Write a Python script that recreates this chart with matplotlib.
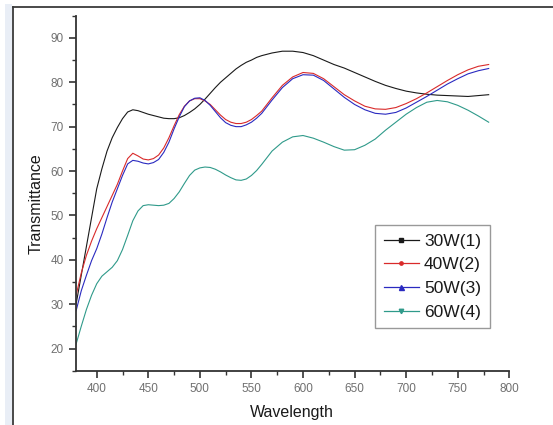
import matplotlib
matplotlib.use("Agg")
import matplotlib.pyplot as plt
from matplotlib.lines import Line2D
from matplotlib.patches import Rectangle
from matplotlib.ticker import MultipleLocator

plt.rcParams['font.family'] = ['Liberation Sans', 'DejaVu Sans']

wavelength = [380, 385, 390, 395, 400, 405, 410, 415, 420, 425, 430, 435, 440,
              445, 450, 455, 460, 465, 470, 475, 480, 485, 490, 495, 500, 505,
              510, 515, 520, 525, 530, 535, 540, 545, 550, 555, 560,
              570, 580, 590, 600, 610, 620, 630, 640, 650, 660, 670, 680, 690,
              700, 710, 720, 730, 740, 750, 760, 770, 780]

t_30w = [30, 36.5, 43, 49.5, 56, 60.5, 64.5, 67.5, 69.8, 71.8, 73.3, 73.8, 73.6,
         73.2, 72.8, 72.5, 72.2, 71.9, 71.8, 71.8, 72.0, 72.5, 73.2, 74.0, 75.0, 76.2,
         77.5, 78.8, 80.0, 81.0, 82.0, 83.0, 83.8, 84.5, 85.0, 85.6, 86.0,
         86.6, 87.0, 87.0, 86.7, 86.0, 85.0, 84.0, 83.2, 82.2, 81.2, 80.2, 79.3, 78.6,
         78.0, 77.6, 77.3, 77.1, 77.0, 76.9, 76.8, 77.0, 77.2]

t_40w = [32, 37, 41, 44.2, 47, 49.5, 52, 54.5, 57, 60, 62.8, 64, 63.4,
         62.7, 62.5, 62.8, 63.6, 65.2, 67.5, 70.2, 72.7, 74.6, 75.8, 76.3, 76.3, 75.8,
         75.0, 73.8, 72.6, 71.6, 71.0, 70.7, 70.7, 71.0, 71.6, 72.5, 73.5,
         76.5, 79.3, 81.2, 82.2, 82.0, 80.8, 79.0, 77.2, 75.8, 74.6, 74.0, 73.9, 74.3,
         75.2, 76.3, 77.6, 79.0, 80.4, 81.7, 82.8, 83.6, 84.0]

t_50w = [28.5, 33, 36.5, 39.8, 42.5, 45.8, 49.5, 53, 56, 59, 61.6, 62.4, 62.2,
         61.8, 61.6, 61.9, 62.6, 64.2, 66.5, 69.5, 72.2, 74.5, 75.8, 76.4, 76.5, 75.9,
         74.8, 73.4, 72.0, 70.9, 70.3, 70.0, 70.0, 70.4, 71.0, 71.9, 73.0,
         76.0, 78.8, 80.8, 81.7, 81.6, 80.4, 78.5, 76.6, 75.0, 73.8, 73.0, 72.8, 73.2,
         74.2, 75.5, 76.8, 78.2, 79.6, 80.8, 81.9, 82.6, 83.1]

t_60w = [21, 25, 28.8, 32, 34.6, 36.3, 37.3, 38.3, 39.8, 42.3, 45.5, 48.8, 51,
         52.2, 52.4, 52.3, 52.2, 52.3, 52.7, 53.8, 55.3, 57.2, 59.0, 60.2, 60.7, 60.9,
         60.8, 60.4, 59.8, 59.1, 58.5, 58.0, 57.9, 58.2, 59.0, 60.1, 61.5,
         64.5, 66.5, 67.7, 68.0, 67.4, 66.5, 65.5, 64.7, 64.8, 65.8, 67.2, 69.2, 71.0,
         72.8, 74.3, 75.5, 75.9, 75.6, 74.8, 73.7, 72.4, 71.0]

labels = ['30W(1)', '40W(2)', '50W(3)', '60W(4)']
x_ticks = [400, 450, 500, 550, 600, 650, 700, 750, 800]
y_ticks = [20, 30, 40, 50, 60, 70, 80, 90]

colors = ['#1a1a1a', '#d92a2a', '#2a2ac0', '#2f9a8a']
markers = ['s', 'o', '^', 'v']
msizes = [2.2, 2.4, 3.6, 3.2]

W, H = 553, 425
fig = plt.figure(figsize=(W / 100, H / 100), dpi=100)
fig.patch.set_facecolor('white')

# outer frame decoration
fig.add_artist(Rectangle((5 / W, 0), 7 / W, 1 - 4 / H, transform=fig.transFigure,
                         facecolor='#e9eef6', edgecolor='none', zorder=0))
fig.add_artist(Line2D([13 / W, 13 / W], [0, 1 - 7 / H], transform=fig.transFigure,
                      color='#3a3a3a', lw=1.3))
fig.add_artist(Line2D([13 / W, 1], [1 - 7 / H, 1 - 7 / H], transform=fig.transFigure,
                      color='#3a3a3a', lw=1.3))

ax_l, ax_r = 76.1, 509.3
ax_t, ax_b = 15.7, 370.7
ax = fig.add_axes([ax_l / W, 1 - ax_b / H, (ax_r - ax_l) / W, (ax_b - ax_t) / H])
ax.set_facecolor('none')

series = [t_30w, t_40w, t_50w, t_60w]
for s, c in zip(series, colors):
    ax.plot(wavelength, s, color=c, lw=0.8, solid_joinstyle='round')

ax.set_xlim(380, 800)
ax.set_ylim(15, 95)
ax.set_xticks(x_ticks)
ax.set_yticks(y_ticks)
ax.xaxis.set_minor_locator(MultipleLocator(25))
ax.yaxis.set_minor_locator(MultipleLocator(5))
for sp in ['top', 'right']:
    ax.spines[sp].set_visible(False)
for sp in ['left', 'bottom']:
    ax.spines[sp].set_color('#333333')
    ax.spines[sp].set_linewidth(1.3)
ax.tick_params(which='major', direction='out', length=5, width=1.2, color='#333333',
               labelsize=8.5, labelcolor='#707070', pad=4)
ax.tick_params(which='minor', direction='out', length=3, width=1.0, color='#333333')

fig.text(36.5 / W, 1 - 204 / H, 'Transmittance', rotation=90, ha='center', va='center',
         fontsize=11.5, color='#1a1a1a')
fig.text(292 / W, 1 - 412 / H, 'Wavelength', ha='center', va='center',
         fontsize=11.5, color='#1a1a1a')

handles = [Line2D([], [], color=c, lw=0.9, marker=m, markersize=ms,
                  markerfacecolor=c, markeredgecolor=c)
           for c, m, ms in zip(colors, markers, msizes)]
leg = fig.legend(handles, labels, loc='upper left',
                 bbox_to_anchor=(375.3 / W, 1 - 225 / H),
                 fontsize=12.5, frameon=True, fancybox=False, shadow=False,
                 handlelength=2.0, handletextpad=0.3, labelspacing=0.49,
                 borderpad=0.5, borderaxespad=0)
leg.get_frame().set_edgecolor('#808080')
leg.get_frame().set_linewidth(1.0)
for t in leg.get_texts():
    t.set_color('#1a1a1a')

fig.savefig('out.png', dpi=100)
